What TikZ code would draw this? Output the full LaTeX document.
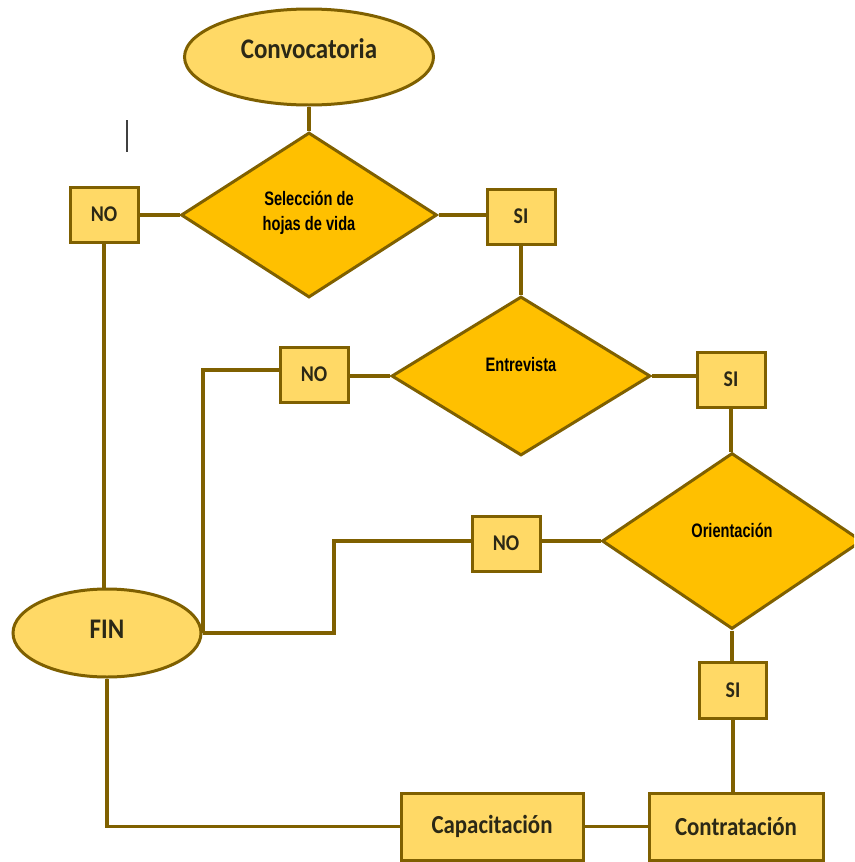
\documentclass[tikz,border=0pt]{standalone}
\usepackage{fontspec}
\setmainfont{Carlito}
\newfontfamily\boxfont[FakeStretch=0.88]{Carlito}
\newfontfamily\decfont[FakeStretch=0.75]{Liberation Sans}
\usetikzlibrary{shapes.geometric}

\definecolor{pale}{HTML}{FFD966}
\definecolor{gold}{HTML}{FFC000}
\definecolor{edge}{HTML}{7F6000}
\definecolor{ink}{HTML}{2B2816}

\tikzset{
  brd/.style={draw=edge, line width=3pt},
  terminal/.style={brd, ellipse, fill=pale, inner sep=0pt},
  decision/.style={brd, diamond, fill=gold, inner sep=0pt},
  answer/.style={brd, rectangle, fill=pale, minimum width=68pt, minimum height=55pt,
    text=ink, font=\boxfont\bfseries\fontsize{22.5}{22.5}\selectfont},
  task/.style={brd, rectangle, fill=pale, minimum height=67pt,
    text=ink, font=\boxfont\bfseries\fontsize{26}{26}\selectfont},
  termtext/.style={text=ink, font=\boxfont\bfseries\fontsize{28.4}{28.4}\selectfont},
  dectext/.style={text=black, align=center, font=\decfont\bfseries\fontsize{19.5}{25}\selectfont},
  link/.style={draw=edge, line width=3.2pt},
  caret/.style={draw=black!75, line width=1.6pt}
}

\begin{document}
\begin{tikzpicture}[x=1pt, y=-1pt]
  \useasboundingbox (0,0) rectangle (854,862);
  \clip (0,0) rectangle (854,862);
  \fill[white] (0,0) rectangle (854,862);

  % start and end terminals
  \node[terminal, minimum width=249pt, minimum height=96pt,
        label={[termtext, yshift=8pt]center:Convocatoria}] (conv) at (309,57) {};
  \node[terminal, minimum width=188pt, minimum height=88pt,
        label={[termtext, yshift=4pt]center:FIN}] (fin) at (107,633) {};

  % decisions
  \node[decision, minimum width=256pt, minimum height=165pt,
        label={[dectext, yshift=2pt]center:{Selección de\\hojas de vida}}] (d1) at (309,215) {};
  \node[decision, minimum width=259pt, minimum height=159pt,
        label={[dectext, yshift=11pt]center:Entrevista}] (d2) at (521,376) {};
  \node[decision, minimum width=260pt, minimum height=176pt,
        label={[dectext, yshift=11pt]center:Orientación}] (d3) at (732,541) {};

  % answers
  \node[answer] (no1) at (104,214.5) {NO};
  \node[answer] (si1) at (521,216.5) {SI};
  \node[answer] (no2) at (314,374.5) {NO};
  \node[answer] (si2) at (731,379.5) {SI};
  \node[answer] (no3) at (506,543.5) {NO};
  \node[answer, minimum width=67pt, minimum height=56pt] (si3) at (733,690) {SI};

  % tasks
  \node[task, minimum width=182pt] (capac) at (492,826.5) {Capacitación};
  \node[task, minimum width=174pt] (contr) at (736,826.5) {Contratación};

  % bends of the return paths
  \coordinate (bend2) at (203,370);
  \coordinate (bend3) at (334,541);

  % connectors
  \draw[link] (conv.south) -- (d1.north);
  \draw[link] (d1.west) -- (d1.west -| no1.east);
  \draw[link] (d1.east) -- (d1.east -| si1.west);
  \draw[link] (si1.south) -- (d2.north);
  \draw[link] (no1.south) -- (no1.south |- fin.north);
  \draw[link] (d2.west) -- (d2.west -| no2.east);
  \draw[link] (d2.east) -- (d2.east -| si2.west);
  \draw[link] (si2.south) -- (si2.south |- d3.north);
  \draw[link] (d3.west) -- (d3.west -| no3.east);
  \draw[link] (d3.south) -- (d3.south |- si3.north);
  \draw[link] (si3.south) -- (si3.south |- contr.north);
  \draw[link] (capac.east) -- (contr.west);
  \draw[link] (fin.south) |- (capac.west);
  \draw[link] (no2.west |- bend2) -- (bend2) -- (bend2 |- fin.east) -- (fin.east);
  \draw[link] (no3.west |- bend3) -- (bend3) -- (bend3 |- fin.east) -- (bend2 |- fin.east);

  % text caret
  \draw[caret] (127,120) -- (127,152);
\end{tikzpicture}
\end{document}
